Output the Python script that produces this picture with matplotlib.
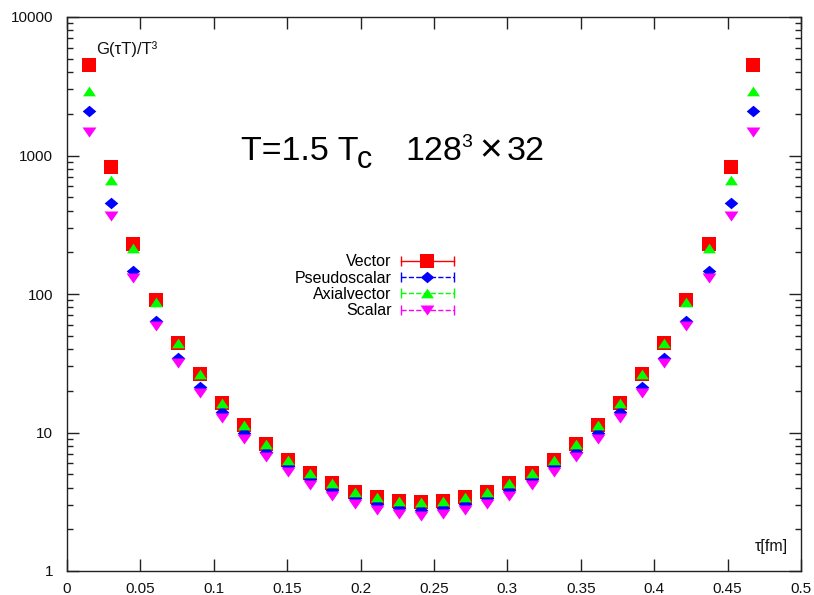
import numpy as np
import matplotlib
matplotlib.use("Agg")
import matplotlib.pyplot as plt
from matplotlib.lines import Line2D
from matplotlib.legend_handler import HandlerBase
from matplotlib.ticker import FixedLocator, LogLocator, NullFormatter, FuncFormatter

plt.rcParams['font.family'] = ['Liberation Sans', 'DejaVu Sans']
plt.rcParams['mathtext.fontset'] = 'custom'
plt.rcParams['mathtext.rm'] = 'Liberation Sans'
plt.rcParams['mathtext.it'] = 'Liberation Sans'

# Euclidean time slices tau [fm]
tau = [0.0151, 0.0301, 0.0452, 0.0603, 0.0754, 0.0904, 0.1055, 0.1206,
       0.1356, 0.1507, 0.1658, 0.1808, 0.1959, 0.2110, 0.2261, 0.2411,
       0.2562, 0.2713, 0.2863, 0.3014, 0.3165, 0.3315, 0.3466, 0.3617,
       0.3768, 0.3918, 0.4069, 0.4220, 0.4370, 0.4521, 0.4672]

# G(tau T)/T^3 per channel
vector = [4500, 820, 228, 90.0, 44.3, 26.5, 16.4, 11.3, 8.26, 6.33, 5.10,
          4.30, 3.74, 3.44, 3.22, 3.13, 3.22, 3.44, 3.74, 4.30, 5.10, 6.33,
          8.26, 11.3, 16.4, 26.5, 44.3, 90.0, 228, 820, 4500]
pseudoscalar = [2095, 452, 146.6, 63.8, 34.5, 21.2, 14.06, 9.87, 7.27, 5.73,
                4.59, 3.85, 3.35, 3.05, 2.84, 2.76, 2.84, 3.05, 3.35, 3.85,
                4.59, 5.73, 7.27, 9.87, 14.06, 21.2, 34.5, 63.8, 146.6, 452, 2095]
axialvector = [2920, 666, 214, 88.0, 44.0, 26.4, 16.4, 11.3, 8.26, 6.33, 5.10,
               4.30, 3.74, 3.44, 3.22, 3.13, 3.22, 3.44, 3.74, 4.30, 5.10, 6.33,
               8.26, 11.3, 16.4, 26.4, 44.0, 88.0, 214, 666, 2920]
scalar = [1490, 368, 130, 58.7, 31.7, 19.4, 12.79, 8.98, 6.69, 5.21, 4.18,
          3.50, 3.05, 2.76, 2.57, 2.49, 2.57, 2.76, 3.05, 3.50, 4.18, 5.21,
          6.69, 8.98, 12.79, 19.4, 31.7, 58.7, 130, 368, 1490]

labels = ['Vector', 'Pseudoscalar', 'Axialvector', 'Scalar']
xticks = [0, 0.05, 0.1, 0.15, 0.2, 0.25, 0.3, 0.35, 0.4, 0.45, 0.5]

# gnuplot-like point shapes
SQUARE = 's'
DIAMOND = np.array([[-1, 0], [0, 0.85], [1, 0], [0, -0.85], [-1, 0]])
TRI_UP = np.array([[-1, -0.75], [1, -0.75], [0, 0.75], [-1, -0.75]])
TRI_DOWN = np.array([[-1, 0.72], [1, 0.72], [0, -0.72], [-1, 0.72]])

series = [
    (vector, labels[0], '#ff0000', SQUARE, 9.6, '-'),
    (pseudoscalar, labels[1], '#0000ff', DIAMOND, 9.8, (0, (4, 3))),
    (axialvector, labels[2], '#00ff00', TRI_UP, 9.3, (0, (4, 3))),
    (scalar, labels[3], '#ff00ff', TRI_DOWN, 10.0, (0, (4, 3))),
]


class ErrorbarKey(HandlerBase):
    """Legend key: horizontal bar with end caps and the point in the middle."""
    def create_artists(self, legend, orig_handle, xdescent, ydescent,
                       width, height, fontsize, trans):
        y = 0.5 * height - ydescent
        x0 = -xdescent
        x1 = x0 + width
        c = orig_handle.get_color()
        bar = Line2D([x0, x1], [y, y], color=c, lw=1.0,
                     linestyle=orig_handle.get_linestyle())
        caps = Line2D([x0, x1], [y, y], color=c, ls='none', marker='|',
                      ms=7, mew=1.0)
        pt = Line2D([0.5 * (x0 + x1)], [y], color=c, ls='none',
                    marker=orig_handle.get_marker(),
                    ms=orig_handle.get_markersize(), mew=0)
        for a in (bar, caps, pt):
            a.set_transform(trans)
        return [bar, caps, pt]


W, H = 814, 595
fig = plt.figure(figsize=(W / 100, H / 100), dpi=100)
ax = fig.add_axes([67 / W, 1 - 571 / H, (801 - 67) / W, (571 - 17) / H])

handles = []
for i, (vals, lab, col, mk, ms, ls) in enumerate(series):
    ax.plot(tau, vals, ls='none', marker=mk, ms=ms, color=col, mew=0,
            zorder=3 + i)
    handles.append(Line2D([], [], color=col, marker=mk, ms=ms, linestyle=ls))

ax.set_yscale('log')
ax.set_xlim(0, 0.5)
ax.set_ylim(1, 10000)

ax.xaxis.set_major_locator(FixedLocator(xticks))
ax.xaxis.set_major_formatter(FuncFormatter(lambda v, p: '%g' % v))
ax.yaxis.set_major_locator(LogLocator(base=10))
ax.yaxis.set_minor_locator(LogLocator(base=10, subs=np.arange(2, 10)))
ax.yaxis.set_major_formatter(FuncFormatter(lambda v, p: '%g' % v))
ax.yaxis.set_minor_formatter(NullFormatter())

ax.tick_params(which='both', direction='in', top=True, right=True,
               color='#222222', width=1.0, labelsize=11, labelcolor='#111111')
ax.tick_params(which='major', length=8.5)
ax.tick_params(which='minor', length=4.5)
ax.tick_params(axis='x', pad=8)
ax.tick_params(axis='y', pad=10)
for sp in ax.spines.values():
    sp.set_color('#222222')
    sp.set_linewidth(1.0)

ax.text(0.040, 0.942, 'G(τT)/T³', transform=ax.transAxes,
        fontsize=12, ha='left', va='center', color='#111111')
ax.text(0.982, 0.045, 'τ[fm]', transform=ax.transAxes,
        fontsize=11.5, ha='right', va='center', color='#111111')

# Run label, set piece by piece (text, x start px, baseline px from top, size)
pieces = [
    ('T=1.5 T', 241, 160, 24.5),
    ('c', 357, 168, 22),
    ('128', 405, 160, 24.5),
    ('3', 461, 147, 14),
    ('×', 479, 161, 28),
    ('32', 507, 160, 24.5),
]
for s, px, py, fs in pieces:
    fig.text(px / W, 1 - py / H, s, fontsize=fs, ha='left', va='baseline',
             color='black')

leg = ax.legend(handles, labels, handler_map={h: ErrorbarKey() for h in handles},
                loc='upper right', bbox_to_anchor=(0.527, 0.572),
                frameon=False, markerfirst=False, fontsize=11.5,
                handlelength=3.3, handletextpad=0.6, labelspacing=0.09,
                borderpad=0, borderaxespad=0)

fig.savefig('out.png', dpi=100)
